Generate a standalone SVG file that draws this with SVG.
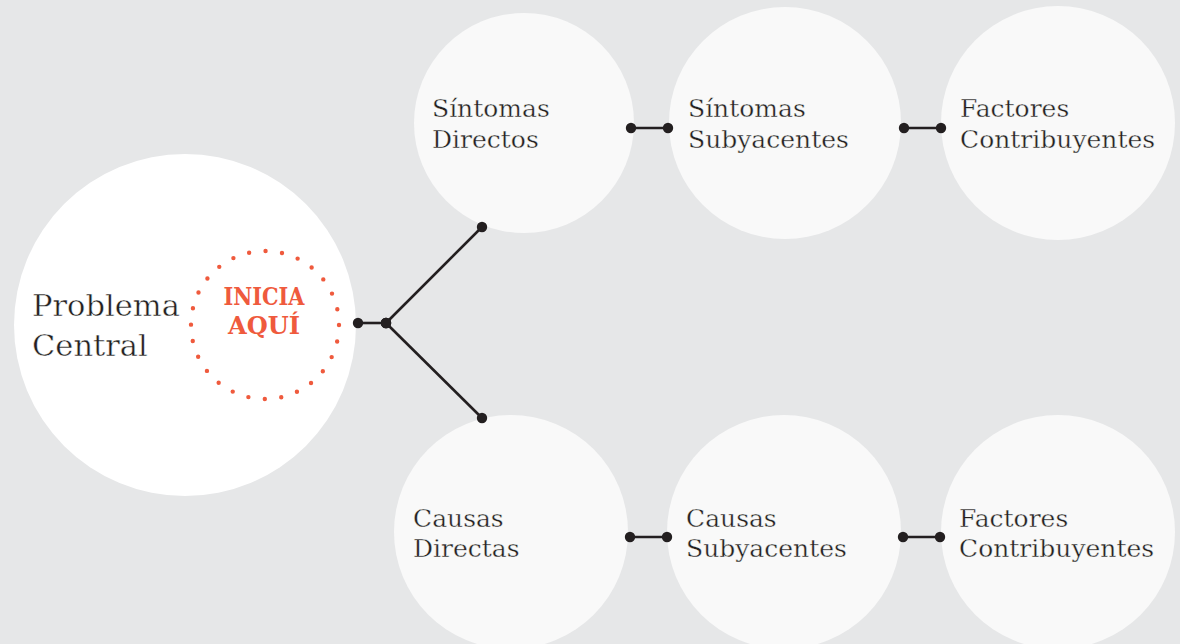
<svg xmlns="http://www.w3.org/2000/svg" width="1180" height="644" viewBox="0 0 1180 644">
  <defs>
    <marker id="dot" viewBox="-6 -6 12 12" markerWidth="12" markerHeight="12" markerUnits="userSpaceOnUse" refX="0" refY="0" orient="auto">
      <circle cx="0" cy="0" r="5.2" fill="#231f20"/>
    </marker>
    <style>
      .bg { fill: #e6e7e8; }
      .node { fill: #f9f9f9; }
      .central { fill: #ffffff; }
      .lbl { font-family: "DejaVu Serif", "Liberation Serif", serif; font-size: 25px; fill: #231f20; stroke: #f9f9f9; stroke-width: 0.35; }
      .big { font-family: "DejaVu Serif", "Liberation Serif", serif; font-size: 30.5px; fill: #231f20; stroke: #ffffff; stroke-width: 0.45; }
      .start { font-family: "DejaVu Serif Condensed", "DejaVu Serif", serif; font-weight: bold; font-size: 24.5px; fill: #ef5a3d; text-anchor: middle; }
      .conn { stroke: #231f20; stroke-width: 2.6; fill: none; marker-start: url(#dot); marker-end: url(#dot); }
    </style>
  </defs>
  <rect class="bg" x="0" y="0" width="1180" height="644"/>

  <g id="problema-central">
    <circle class="central" cx="185" cy="325" r="171"/>
    <text class="big" x="32" y="316">Problema</text>
    <text class="big" x="32" y="356">Central</text>
    <circle cx="265" cy="325" r="74" fill="none" stroke="#ef5a3d" stroke-width="4.4" stroke-linecap="round" stroke-dasharray="0 16.606"/>
    <text class="start" x="264" y="305" textLength="81" lengthAdjust="spacingAndGlyphs">INICIA</text>
    <text class="start" x="264" y="334" textLength="72" lengthAdjust="spacingAndGlyphs">AQUÍ</text>
  </g>

  <g id="sintomas-directos">
    <circle class="node" cx="524" cy="123" r="110"/>
    <text class="lbl" x="432" y="117">Síntomas</text>
    <text class="lbl" x="432" y="148">Directos</text>
  </g>

  <g id="sintomas-subyacentes">
    <circle class="node" cx="785" cy="123" r="116"/>
    <text class="lbl" x="688" y="117">Síntomas</text>
    <text class="lbl" x="688" y="148">Subyacentes</text>
  </g>

  <g id="factores-sintomas">
    <circle class="node" cx="1058" cy="123" r="117"/>
    <text class="lbl" x="960" y="117">Factores</text>
    <text class="lbl" x="960" y="148">Contribuyentes</text>
  </g>

  <g id="causas-directas">
    <circle class="node" cx="511" cy="532" r="117"/>
    <text class="lbl" x="413" y="527">Causas</text>
    <text class="lbl" x="413" y="557">Directas</text>
  </g>

  <g id="causas-subyacentes">
    <circle class="node" cx="784" cy="532" r="117"/>
    <text class="lbl" x="686" y="527">Causas</text>
    <text class="lbl" x="686" y="557">Subyacentes</text>
  </g>

  <g id="factores-causas">
    <circle class="node" cx="1058" cy="532" r="117"/>
    <text class="lbl" x="959" y="527">Factores</text>
    <text class="lbl" x="959" y="557">Contribuyentes</text>
  </g>

  <g id="connectors">
    <line class="conn" x1="358" y1="323" x2="386" y2="323"/>
    <line class="conn" x1="386" y1="323" x2="482" y2="227"/>
    <line class="conn" x1="386" y1="323" x2="482" y2="418"/>
    <line class="conn" x1="631" y1="128" x2="668" y2="128"/>
    <line class="conn" x1="904" y1="128" x2="941" y2="128"/>
    <line class="conn" x1="630" y1="537" x2="667" y2="537"/>
    <line class="conn" x1="903" y1="537" x2="940" y2="537"/>
  </g>
</svg>
